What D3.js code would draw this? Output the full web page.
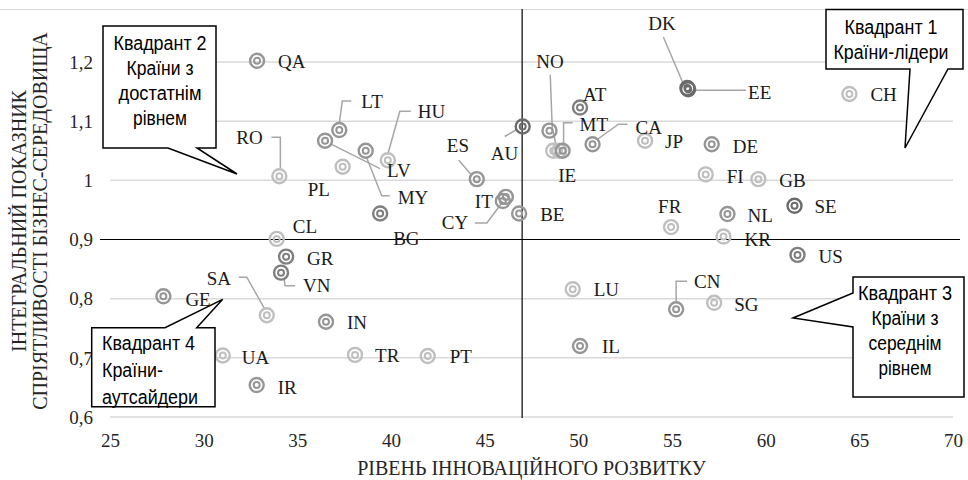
<!DOCTYPE html>
<html><head><meta charset="utf-8">
<script src="https://cdn.jsdelivr.net/npm/d3@7/dist/d3.min.js"></script>
<style>
html,body{margin:0;padding:0;background:#fff;}
svg{display:block;}
.serif{font-family:'Liberation Serif','Times New Roman',serif !important;}
.sans{font-family:'Liberation Sans',Arial,sans-serif !important;}
</style></head>
<body>
<svg id="chart" width="968" height="480"></svg>
<script>
// ---------- DATA ----------
const countries = ["QA","GE","SA","UA","IR","CL","GR","VN","IN","TR","PT","LU","IL","CN","SG","US","KR","NL","FR","SE","GB","FI","DE","JP","CH","DK","EE","CA","AT","AU","","NO","IE","MT","ES","IT","CY","BE","RO","LT","LV","MY","HU","PL","BG"];
const innovation = [32.85,27.85,33.37,31.02,32.83,33.90,34.40,34.13,36.53,38.08,41.96,49.70,50.09,55.22,57.25,61.70,57.75,57.96,54.95,61.54,59.61,56.80,57.12,53.56,64.47,55.82,55.86,50.76,50.09,47.03,48.46,48.66,48.98,49.16,44.58,46.13,45.97,46.84,34.04,37.24,36.48,38.65,39.83,37.42,39.42];
const business   = [1.202,0.804,0.772,0.704,0.654,0.901,0.871,0.844,0.761,0.705,0.703,0.816,0.720,0.782,0.793,0.874,0.905,0.943,0.921,0.957,1.002,1.010,1.061,1.067,1.146,1.156,1.154,1.061,1.123,1.091,1.084,1.050,1.050,1.050,1.002,0.972,0.965,0.944,1.007,1.085,1.067,1.050,1.034,1.023,0.944];
const xTicks = [25,30,35,40,45,50,55,60,65,70];
const yTicks = [0.6,0.7,0.8,0.9,1.0,1.1,1.2];
const xCross = 47;   // vertical axis crossing
const yCross = 0.9;  // horizontal axis crossing
const xTitle = "РІВЕНЬ ІННОВАЦІЙНОГО РОЗВИТКУ";
const yTitle = ["ІНТЕГРАЛЬНИЙ ПОКАЗНИК","СПРІЯТЛИВОСТІ БІЗНЕС-СЕРЕДОВИЩА"];
const quadrantText = {
  q1: ["Квадрант 1","Країни-лідери"],
  q2: ["Квадрант 2","Країни з","достатнім","рівнем"],
  q3: ["Квадрант 3","Країни з","середнім","рівнем"],
  q4: ["Квадрант 4","Країни-","аутсайдери"]
};

// ---------- STYLE / LAYOUT ----------
const tones = {dark:"#6b6b6b", mid2:"#7f7f7f", mid:"#969696", light:"#bfbfbf"};
const toneOf = {QA:"mid",GE:"mid",SA:"light",UA:"light",IR:"mid",CL:"light",GR:"mid2",VN:"mid2",IN:"mid",TR:"light",PT:"light",LU:"light",IL:"mid",CN:"mid",SG:"light",US:"mid2",KR:"light",NL:"mid",FR:"light",SE:"dark",GB:"light",FI:"light",DE:"mid",JP:"light",CH:"light",DK:"dark",EE:"dark",CA:"mid",AT:"mid2",AU:"dark","":"mid",NO:"light",IE:"light",MT:"mid",ES:"mid",IT:"mid",CY:"mid",BE:"mid",RO:"light",LT:"mid",LV:"mid",MY:"mid",HU:"light",PL:"light",BG:"mid2"};
// label offsets (left edge, vertical centre) relative to the marker, and leader polylines
const labelLayout = {
  QA:{dx:21,dy:1}, GE:{dx:22,dy:3},
  SA:{dx:-60,dy:-37, leader:[[-28,-38],[-20,-38],[-2,-6]]},
  UA:{dx:19,dy:2}, IR:{dx:21,dy:3}, CL:{dx:16,dy:-12}, GR:{dx:21,dy:2},
  VN:{dx:22,dy:13, leader:[[3,6],[4,13],[14,13]]},
  IN:{dx:21,dy:1}, TR:{dx:20,dy:1}, PT:{dx:22,dy:1}, LU:{dx:21,dy:1}, IL:{dx:22,dy:1},
  CN:{dx:18,dy:-28, leader:[[0,-7],[0,-28],[11,-28]]},
  SG:{dx:20,dy:2}, US:{dx:21,dy:2}, KR:{dx:21,dy:3}, NL:{dx:20,dy:2}, FR:{dx:-13,dy:-20},
  SE:{dx:20,dy:1}, GB:{dx:21,dy:2}, FI:{dx:21,dy:2}, DE:{dx:21,dy:2}, JP:{dx:20,dy:1}, CH:{dx:21,dy:1},
  DK:{dx:-39,dy:-64, leader:[[-24,-51],[-4,-4]]},
  EE:{dx:60,dy:4, leader:[[6,1],[58,1]]},
  CA:{dx:43,dy:-17, leader:[[5,-5],[26,-20],[35,-20]]},
  AT:{dx:3,dy:-13},
  AU:{dx:-32,dy:27, leader:[[-18,10],[-6,3]]},
  NO:{dx:-17,dy:-89, leader:[[-3,-76],[-1,-23],[3,-5]]},
  IE:{dx:-1,dy:25},
  MT:{dx:17,dy:-26, leader:[[1,-7],[1,-28],[10,-28]]},
  ES:{dx:-30,dy:-33, leader:[[-18,-19],[-6,-5]]},
  IT:{dx:-31,dy:5},
  CY:{dx:-61,dy:22, leader:[[-28,22],[-16,22],[-1,2]]},
  BE:{dx:21,dy:1},
  RO:{dx:-43,dy:-38, leader:[[-8,-39],[1,-39],[1,-8]]},
  LT:{dx:22,dy:-28, leader:[[0,-7],[3,-29],[12,-29]]},
  LV:{dx:62,dy:30, leader:[[5,3],[55,28]]},
  MY:{dx:32,dy:47, leader:[[1,7],[16,45],[24,45]]},
  HU:{dx:30,dy:-48, leader:[[0,-6],[12,-49],[23,-49]]},
  PL:{dx:-35,dy:23}, BG:{dx:13,dy:25}
};

const W = 968, H = 480;
const svg = d3.select("#chart");
const x = d3.scaleLinear().domain([25,70]).range([110,953]);
const y = d3.scaleLinear().domain([0.6,1.2]).range([417,62]);
const textColor = "#262626";

// outer frame top line
svg.append("line").attr("x1",0).attr("x2",W).attr("y1",9.5).attr("y2",9.5)
  .attr("stroke","#d9d9d9").attr("stroke-width",1.2);

// gridlines
svg.append("g").selectAll("line").data(yTicks.filter(v=>Math.abs(v-yCross)>1e-9)).join("line")
  .attr("x1",x(25)).attr("x2",x(70)).attr("y1",d=>y(d)).attr("y2",d=>y(d))
  .attr("stroke","#d9d9d9").attr("stroke-width",1.5);

// axes (crossing lines)
svg.append("line").attr("x1",x(25)-10).attr("x2",x(70)+7).attr("y1",y(yCross)).attr("y2",y(yCross))
  .attr("stroke","#000").attr("stroke-width",1.2);
svg.append("line").attr("x1",x(xCross)).attr("x2",x(xCross)).attr("y1",9).attr("y2",y(0.6)+1)
  .attr("stroke","#000").attr("stroke-width",1.2);

// tick labels via axes
const xAxis = d3.axisBottom(x).tickValues(xTicks).tickSize(0).tickPadding(0).tickFormat(d3.format("d"));
const gx = svg.append("g").attr("transform",`translate(0,${y(0.6)+30})`).call(xAxis);
gx.select(".domain").remove();
gx.attr("font-family",null);
gx.selectAll("text").attr("class","serif").attr("font-size",19).attr("fill",textColor).attr("dy","0");
const fmtY = d => (Math.abs(d-1)<1e-9 ? "1" : d3.format(".1f")(d).replace(".",","));
const yAxis = d3.axisLeft(y).tickValues(yTicks).tickSize(0).tickPadding(0).tickFormat(fmtY);
const gy = svg.append("g").attr("transform",`translate(93,0)`).call(yAxis);
gy.select(".domain").remove();
gy.attr("font-family",null);
gy.selectAll("text").attr("class","serif").attr("font-size",19).attr("fill",textColor).attr("dy","0.33em");

// axis titles
svg.append("text").attr("class","serif").attr("x",531.5).attr("y",468).attr("dy","0.33em").attr("text-anchor","middle")
  .attr("font-size",20).attr("fill",textColor).text(xTitle);
yTitle.forEach((t,i)=>{
  svg.append("text").attr("class","serif").attr("transform",`translate(${19+i*21},221) rotate(-90)`).attr("dy","0.33em")
    .attr("text-anchor","middle").attr("font-size",20).attr("fill",textColor).text(t);
});

// data
const pts = countries.map((c,i)=>({c, xv:innovation[i], yv:business[i]}));

// leaders
const gl = svg.append("g");
pts.forEach(p=>{
  const L = labelLayout[p.c];
  if(!L || !L.leader) return;
  const px = x(p.xv), py = y(p.yv);
  gl.append("polyline").attr("points", L.leader.map(q=>`${px+q[0]},${py+q[1]}`).join(" "))
    .attr("fill","none").attr("stroke","#a6a6a6").attr("stroke-width",1.5);
});

// markers
const gm = svg.append("g").selectAll("g").data(pts).join("g")
  .attr("transform",d=>`translate(${x(d.xv)},${y(d.yv)})`);
gm.append("circle").attr("r",7).attr("fill","none").attr("stroke",d=>tones[toneOf[d.c]]).attr("stroke-width",2.4);
gm.append("circle").attr("r",3).attr("fill","none").attr("stroke",d=>tones[toneOf[d.c]]).attr("stroke-width",2);

// labels
svg.append("g").selectAll("text").data(pts.filter(p=>p.c && labelLayout[p.c])).join("text")
  .attr("class","serif")
  .attr("x",d=>x(d.xv)+labelLayout[d.c].dx).attr("y",d=>y(d.yv)+labelLayout[d.c].dy)
  .attr("dy","0.33em").attr("font-size",19).attr("fill","#1a1a1a")
  .text(d=>d.c);

// callouts (annotation layout, pixels)
const callouts = [
  {key:"q2", path:"M103,26 H216 V148 H197 L237,174 L168,148 H103 Z", anchor:"middle", tx:160, ty:43,
   widths:[93,67,83,54]},
  {key:"q1", path:"M826,9.5 H963 V69 H948 L905,148 L910,69 H826 Z", anchor:"middle", tx:891, ty:27,
   widths:[93,115]},
  {key:"q3", path:"M853,277 H964 V397 H853 V327 L793,318 L853,293 Z", anchor:"middle", tx:905, ty:293,
   widths:[94,67,73,53]},
  {key:"q4", path:"M91.7,327.7 H165 L222.7,299.3 L196.7,327.7 H215 V406.7 H91.7 Z", anchor:"start", tx:102, ty:343,
   widths:[93,61,96]}
];
callouts.forEach(co=>{
  svg.append("path").attr("d",co.path).attr("fill","#fff").attr("stroke","#000").attr("stroke-width",1.5);
  const lines = quadrantText[co.key];
  const step = co.key==="q4" ? 27 : 25;
  lines.forEach((t,i)=>{
    svg.append("text").attr("class","sans").attr("x",co.tx).attr("y",co.ty+i*step).attr("dy","0.36em")
      .attr("text-anchor",co.anchor).attr("font-size",20).attr("fill","#000")
      .attr("textLength",co.widths[i]).attr("lengthAdjust","spacingAndGlyphs").text(t);
  });
});
</script>
</body></html>
